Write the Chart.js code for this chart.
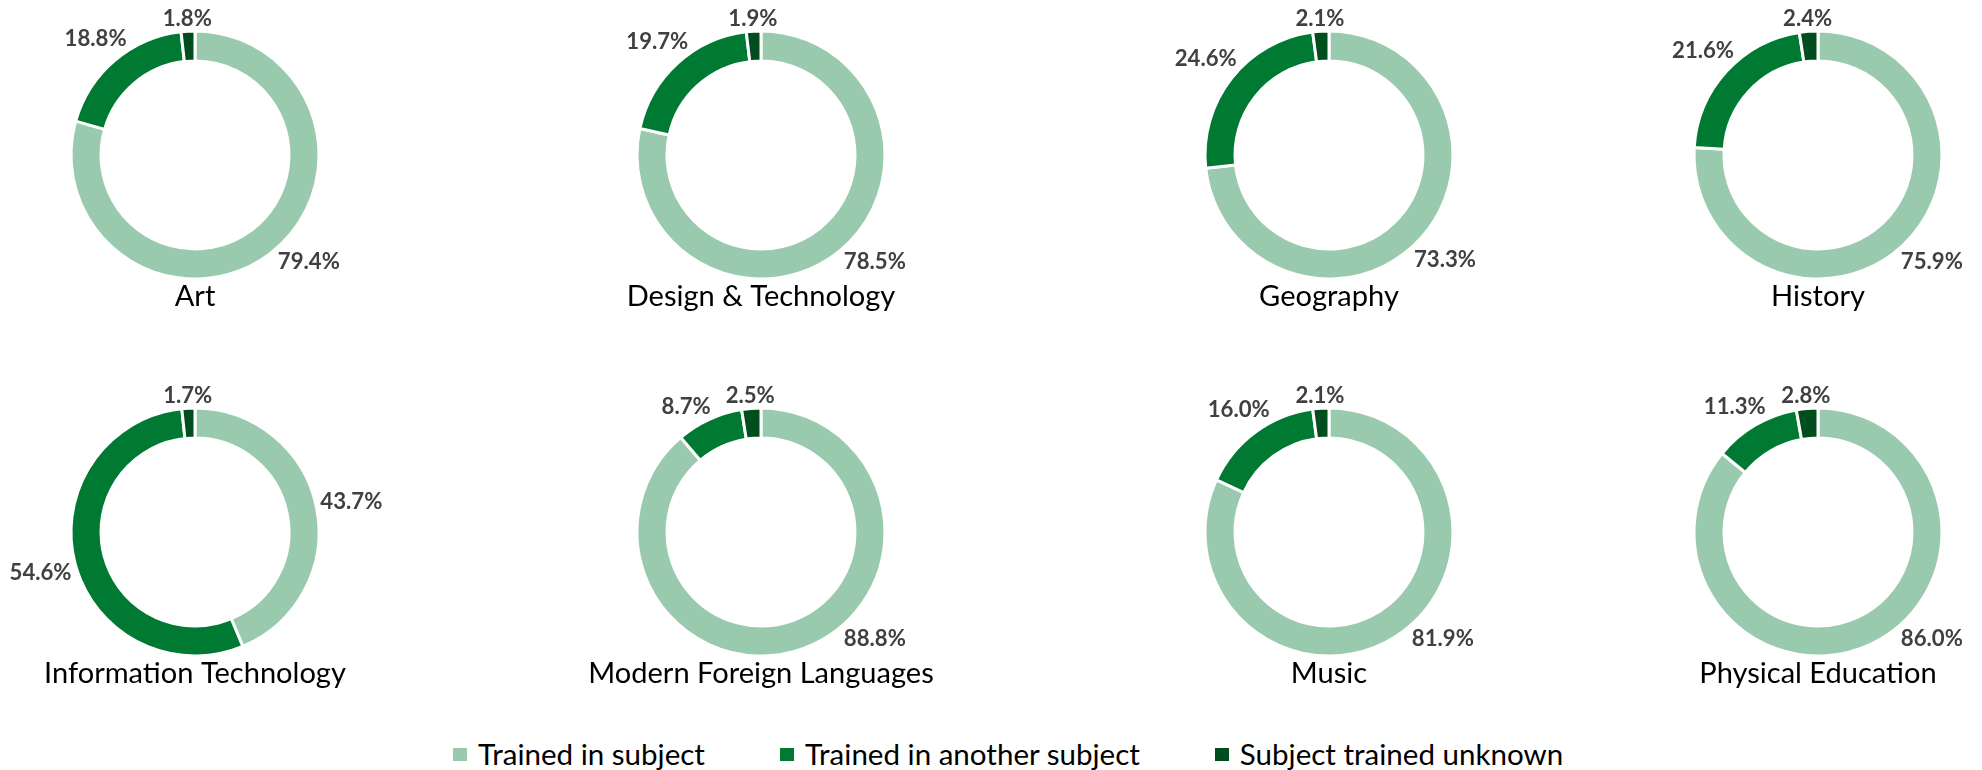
<!DOCTYPE html>
<html>
<head>
<meta charset="utf-8">
<script src="https://cdn.jsdelivr.net/npm/chart.js@4.4.0/dist/chart.umd.min.js"></script>
<style>
  html, body { margin: 0; padding: 0; background: #fff; width: 1982px; height: 770px; overflow: hidden; }
  .donut { position: absolute; width: 440px; height: 360px; }
  #legend { position: absolute; left: 453px; top: 736px; display: flex; align-items: center; font-family: Lato, sans-serif; color: #000; line-height: 36px; white-space: nowrap; }
  #legend .item { display: flex; align-items: center; margin-right: 75px; }
  #legend .sw { width: 14px; height: 13px; margin-right: 11px; }
</style>
</head>
<body>
<div id="legend"></div>
<script>
'use strict';

// Share of teachers by training status, per subject (percent).
const subjects = ['Art', 'Design & Technology', 'Geography', 'History',
  'Information Technology', 'Modern Foreign Languages', 'Music', 'Physical Education'];
const seriesNames = ['Trained in subject', 'Trained in another subject', 'Subject trained unknown'];
const trainedInSubject = [79.4, 78.5, 73.3, 75.9, 43.7, 88.8, 81.9, 86.0];
const trainedInAnother = [18.8, 19.7, 24.6, 21.6, 54.6, 8.7, 16.0, 11.3];
const trainedUnknown   = [1.8, 1.9, 2.1, 2.4, 1.7, 2.5, 2.1, 2.8];
const seriesColors = ['#9ACAAD', '#007A33', '#004D1E'];

// grid of donut centres (4 x 2)
const colX = [194.5, 761, 1328.5, 1817.5];
const rowY = [154.5, 532];
const BOX_W = 440, BOX_H = 360;

const FONT = 'Lato, "Open Sans", sans-serif';

// Calibri isn't installed, so size Lato to cover the same width.
function fitSize(text, target, weight) {
  const c = document.createElement('canvas').getContext('2d');
  c.font = `${weight} 100px ${FONT}`;
  return 100 * target / c.measureText(text).width;
}
const titleSize = fitSize('Information Technology', 302, 400);
const labelSize = fitSize('79.4%', 62, 700);
const legendSize = fitSize('Trained in subject', 227, 400);

const deg = Math.PI / 180;

function overlaps(a, b, gap) {
  return Math.abs(a.x - b.x) < (a.w + b.w) / 2 + gap &&
         Math.abs(a.y - b.y) < (a.h + b.h) / 2 + gap / 2;
}

// Percent labels just outside the ring, plus the subject name below.
const donutLabels = {
  id: 'donutLabels',
  afterDatasetsDraw(chart, args, opts) {
    const ctx = chart.ctx;
    const meta = chart.getDatasetMeta(0);
    const values = chart.data.datasets[0].data;
    const capH = labelSize * 0.72;
    let cx = 0, cy = 0;
    ctx.save();
    ctx.font = `bold ${labelSize}px ${FONT}`;

    const place = (lab) => {
      const a = lab.t - Math.PI / 2;
      const dx = Math.cos(a), dy = Math.sin(a);
      const r = lab.R + 3.5 + Math.abs(dx) * lab.w / 2 + Math.abs(dy) * lab.h / 2;
      lab.x = lab.cx + dx * r;
      lab.y = lab.cy + dy * r;
    };

    const labs = meta.data.map((arc, i) => {
      const p = arc.getProps(['x', 'y', 'startAngle', 'endAngle', 'outerRadius'], true);
      cx = p.x; cy = p.y;
      // angle clockwise from top; keep labels out of the title zone at the bottom
      let t = (p.startAngle + p.endAngle) / 2 + Math.PI / 2;
      const lo = 133 * deg, hi = 227 * deg;
      if (t > lo && t < hi) t = (t - lo < hi - t) ? lo : hi;
      const txt = values[i].toFixed(1) + '%';
      const lab = { txt, t, cx: p.x, cy: p.y, R: p.outerRadius, w: ctx.measureText(txt).width, h: capH };
      place(lab);
      return lab;
    });

    // nudge crowded neighbours apart (move the earlier one anticlockwise)
    for (let i = labs.length - 2; i >= 0; i--) {
      let guard = 0;
      while (overlaps(labs[i], labs[i + 1], 14) && guard++ < 60) {
        labs[i].t -= 1 * deg;
        place(labs[i]);
      }
    }

    ctx.fillStyle = '#404040';
    ctx.textAlign = 'center';
    ctx.textBaseline = 'alphabetic';
    labs.forEach(l => ctx.fillText(l.txt, l.x, l.y + capH / 2));

    ctx.font = `${titleSize}px ${FONT}`;
    ctx.fillStyle = '#000';
    ctx.fillText(opts.title, cx, cy + 151);
    ctx.restore();
  }
};

subjects.forEach((name, k) => {
  const box = document.createElement('div');
  box.className = 'donut';
  box.style.left = (colX[k % 4] - BOX_W / 2) + 'px';
  box.style.top = (rowY[Math.floor(k / 4)] - BOX_H / 2) + 'px';
  const canvas = document.createElement('canvas');
  box.appendChild(canvas);
  document.body.appendChild(box);

  new Chart(canvas, {
    type: 'doughnut',
    data: {
      labels: seriesNames,
      datasets: [{
        data: [trainedInSubject[k], trainedInAnother[k], trainedUnknown[k]],
        backgroundColor: seriesColors,
        borderColor: '#fff',
        borderWidth: 3,
      }],
    },
    options: {
      responsive: true, maintainAspectRatio: false,
      animation: false,
      events: [],
      radius: 124,
      cutout: '75.8%',
      layout: { padding: 0 },
      plugins: {
        legend: { display: false },
        tooltip: { enabled: false },
        donutLabels: { title: name },
      },
    },
    plugins: [donutLabels],
  });
});

// legend row
const legend = document.getElementById('legend');
legend.style.fontSize = legendSize + 'px';
seriesNames.forEach((s, i) => {
  const item = document.createElement('div');
  item.className = 'item';
  item.innerHTML = `<span class="sw" style="background:${seriesColors[i]}"></span><span>${s}</span>`;
  legend.appendChild(item);
});
</script>
</body>
</html>
